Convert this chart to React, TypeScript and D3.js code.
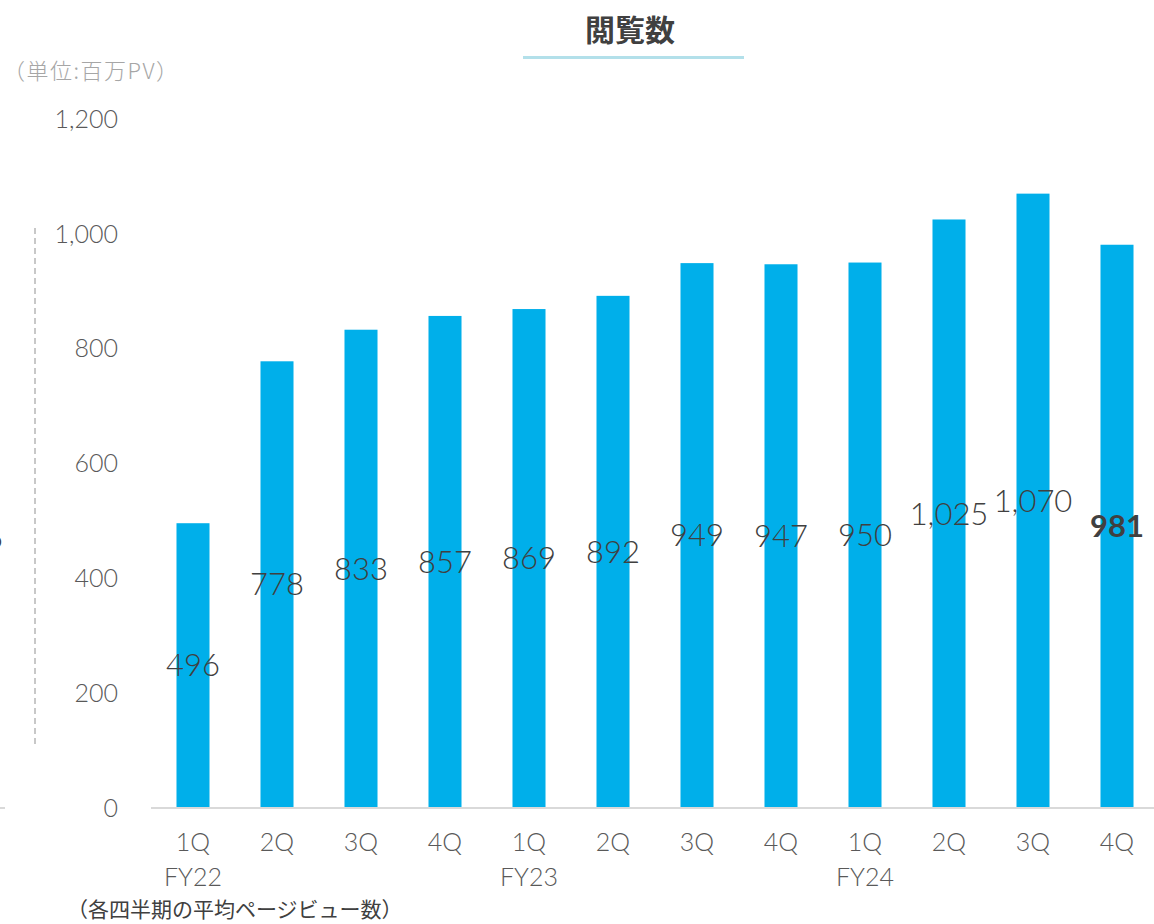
import React from "react";
import * as d3 from "d3";

const quarters = ["1Q", "2Q", "3Q", "4Q", "1Q", "2Q", "3Q", "4Q", "1Q", "2Q", "3Q", "4Q"];
const fiscalYears = ["FY22", "", "", "", "FY23", "", "", "", "FY24", "", "", ""];
const pageViews = [496, 778, 833, 857, 869, 892, 949, 947, 950, 1025, 1070, 981];
const yTicks = [0, 200, 400, 600, 800, 1000, 1200];
const titleText = "閲覧数";
const unitText = "（単位:百万PV）";
const noteText = "（各四半期の平均ページビュー数）";

const W = 1154;
const H = 924;
const LATIN = "'Century Gothic', Lato, 'Noto Sans', sans-serif";
const CJK = "'Noto Sans CJK JP', 'Noto Sans', sans-serif";

export default function App() {
  const idx = pageViews.map((_, i) => i);
  const x = d3.scaleBand<number>().domain(idx).range([151, 1159]).paddingInner(0.607).paddingOuter(0.3035);
  const y = d3.scaleLinear().domain([0, 1200]).range([808, 119]);
  const fmt = d3.format(",");
  const last = pageViews.length - 1;

  return (
    <svg width={W} height={H} style={{ position: "absolute", left: 0, top: 0, background: "#fff" }}>
      {/* title */}
      <text x={630} y={41} textAnchor="middle" fontFamily={CJK} fontWeight={700} fontSize={30} fill="#404040">
        {titleText}
      </text>
      <line x1={523} x2={744} y1={57.5} y2={57.5} stroke="#b3e0ea" strokeWidth={3} />

      {/* unit */}
      <text x={3} y={79} fontFamily={CJK} fontWeight={300} fontSize={22} letterSpacing={1.5} fill="#a6a6a6">
        {unitText}
      </text>

      {/* dashed decorative line */}
      <line x1={35} x2={35} y1={228} y2={746} stroke="#c8c8c8" strokeWidth={2} strokeDasharray="6 4" />
      <text x={2} y={548} textAnchor="end" fontFamily={LATIN} fontSize={24} fill="#404040">o</text>
      <line x1={0} x2={5} y1={808} y2={808} stroke="#d9d9d9" strokeWidth={2} />

      {/* y tick labels */}
      {yTicks.map((t) => (
        <text key={t} x={118} y={y(t)} dy="0.35em" textAnchor="end" fontFamily={LATIN} fontWeight={300} fontSize={25} fill="#595959">
          {fmt(t)}
        </text>
      ))}

      {/* bars */}
      {pageViews.map((v, i) => (
        <rect key={i} x={x(i)} y={y(v)} width={x.bandwidth()} height={y(0) - y(v)} fill="#00afea" />
      ))}

      {/* baseline */}
      <line x1={151} x2={W} y1={808} y2={808} stroke="#d9d9d9" strokeWidth={2} />

      {/* value labels */}
      {pageViews.map((v, i) => (
        <text
          key={i}
          x={(x(i) as number) + x.bandwidth() / 2}
          y={(y(v) + y(0)) / 2}
          dy="0.35em"
          textAnchor="middle"
          fontFamily={LATIN}
          fontSize={31}
          fontWeight={i === last ? 700 : 300}
          fill="#404040"
        >
          {fmt(v)}
        </text>
      ))}

      {/* x labels */}
      {quarters.map((q, i) => (
        <g key={i}>
          <text x={(x(i) as number) + x.bandwidth() / 2} y={851} textAnchor="middle" fontFamily={LATIN} fontWeight={300} fontSize={25} fill="#595959">
            {q}
          </text>
          {fiscalYears[i] && (
            <text x={(x(i) as number) + x.bandwidth() / 2} y={886} textAnchor="middle" fontFamily={LATIN} fontWeight={300} fontSize={25} fill="#595959">
              {fiscalYears[i]}
            </text>
          )}
        </g>
      ))}

      {/* note */}
      <text x={67} y={917} fontFamily={CJK} fontWeight={400} fontSize={21} fill="#404040">
        {noteText}
      </text>
    </svg>
  );
}
